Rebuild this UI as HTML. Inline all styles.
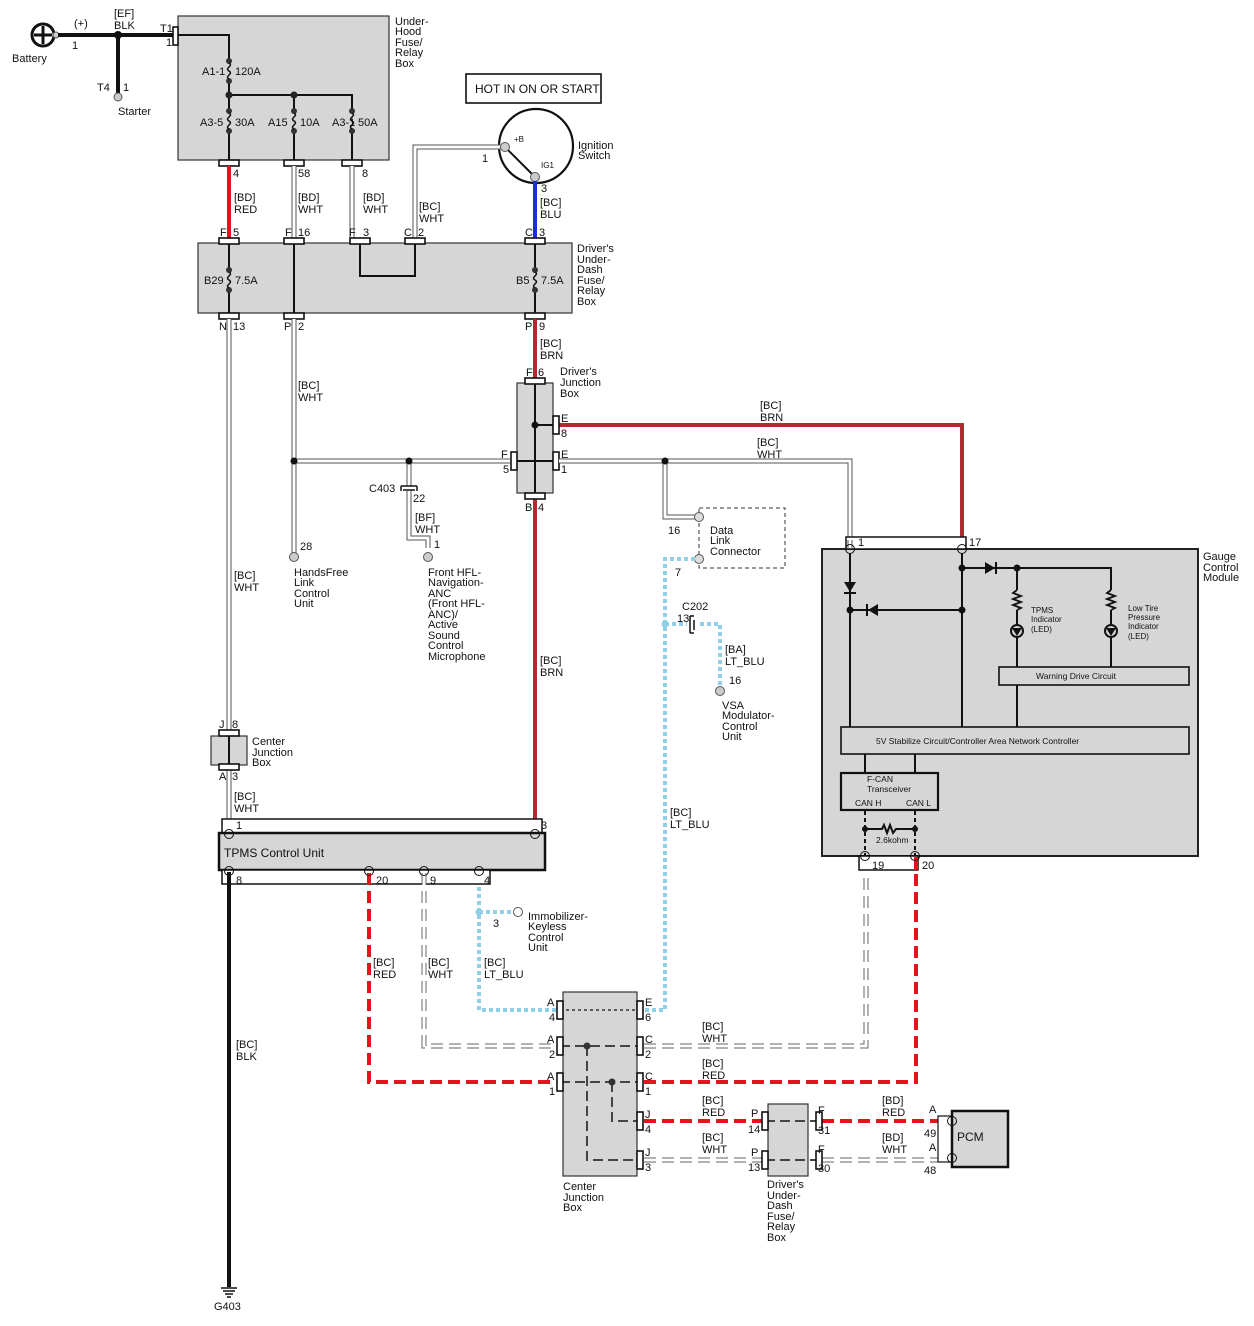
<!DOCTYPE html>
<html><head><meta charset="utf-8"><style>
html,body{margin:0;padding:0;background:#fff}
svg{display:block}
text{font-family:"Liberation Sans",Arial,sans-serif;font-size:11px;fill:#111}
.wo{stroke:#555;stroke-width:5;fill:none}
.wi{stroke:#fff;stroke-width:3;fill:none}
.k{stroke:#111;stroke-width:2;fill:none}
.kt{stroke:#111;stroke-width:4;fill:none}
.red{stroke:#e3141b;stroke-width:4;fill:none}
.rd{stroke:#e3141b;stroke-width:4;fill:none;stroke-dasharray:12 6}
.brn{stroke:#b22a2f;stroke-width:4;fill:none}
.blu{stroke:#1a2ee0;stroke-width:4;fill:none}
.lb{stroke:#8fcfe8;stroke-width:4;fill:none;stroke-dasharray:4 3}
.wdo{stroke:#666;stroke-width:5;fill:none;stroke-dasharray:12 6}
.wdi{stroke:#fff;stroke-width:3;fill:none;stroke-dasharray:12 6}
.gd{stroke:#444;stroke-width:2;fill:none;stroke-dasharray:10 5}
.box{fill:#d6d6d6;stroke:#333;stroke-width:1.2}
.c{fill:#fff;stroke:#111;stroke-width:1.6}
.pin{fill:none;stroke:#111;stroke-width:1}
</style></head><body>
<svg width="1254" height="1326" viewBox="0 0 1254 1326" xmlns="http://www.w3.org/2000/svg">
<defs>
<g id="fuse"><circle cx="0" cy="-10" r="3" fill="#333"/><circle cx="0" cy="10" r="3" fill="#333"/><path d="M0,-8 c5,3 -5,5 0,8 c5,3 -5,5 0,8" stroke="#111" stroke-width="1.5" fill="none"/></g>
<g id="ch"><rect x="-10" y="-3" width="20" height="6" class="c"/></g>
<g id="cv"><rect x="-3" y="-9" width="6" height="18" class="c"/></g>
</defs>

<circle cx="43" cy="35" r="11" fill="#fff" stroke="#111" stroke-width="3"/>
<path d="M34,35H52M43,26V44" stroke="#111" stroke-width="3"/>
<circle cx="56" cy="35" r="3" fill="#ccc" stroke="#555"/>
<path class="kt" d="M58,35H174M118,35V94"/>
<circle cx="118" cy="35" r="4" fill="#111"/>
<circle cx="118" cy="97" r="4" fill="#ccc" stroke="#555"/>
<text x="74" y="27">(+)</text><text x="72" y="49">1</text>
<text x="114" y="17">[EF]</text><text x="114" y="29">BLK</text>
<text x="160" y="32">T1</text><text x="166" y="46">1</text>
<text x="97" y="91">T4</text><text x="123" y="91">1</text>
<text x="118" y="115">Starter</text><text x="12" y="62">Battery</text>

<rect x="178" y="16" width="211" height="144" class="box"/>
<rect x="173" y="27" width="5" height="18" class="c"/>
<path class="k" d="M178,35H229V160M229,95H352V160M294,95V160" stroke-width="1.6"/>
<rect x="219" y="60" width="20" height="22" fill="#d6d6d6"/>
<use href="#fuse" x="229" y="71"/>
<rect x="219" y="110" width="20" height="22" fill="#d6d6d6"/><use href="#fuse" x="229" y="121"/>
<rect x="284" y="110" width="20" height="22" fill="#d6d6d6"/><use href="#fuse" x="294" y="121"/>
<rect x="342" y="110" width="20" height="22" fill="#d6d6d6"/><use href="#fuse" x="352" y="121"/>
<circle cx="229" cy="95" r="3.5" fill="#222"/><circle cx="294" cy="95" r="3.5" fill="#222"/>
<text x="202" y="75">A1-1</text><text x="235" y="75">120A</text>
<text x="200" y="126">A3-5</text><text x="235" y="126">30A</text>
<text x="268" y="126">A15</text><text x="300" y="126">10A</text>
<text x="332" y="126">A3-1</text><text x="358" y="126">50A</text>
<text x="395" y="25">Under-</text><text x="395" y="35">Hood</text><text x="395" y="46">Fuse/</text><text x="395" y="56">Relay</text><text x="395" y="67">Box</text>
<use href="#ch" x="229" y="163"/><use href="#ch" x="294" y="163"/><use href="#ch" x="352" y="163"/>

<rect x="466" y="74" width="135" height="29" fill="#fff" stroke="#111" stroke-width="1.6"/>
<text x="475" y="93" style="font-size:12px">HOT IN ON OR START</text>
<circle cx="536" cy="146" r="37" fill="#fff" stroke="#111" stroke-width="2.2"/>
<path d="M505,147L535,177" stroke="#111" stroke-width="2"/>
<circle cx="505" cy="147" r="4.5" fill="#ccc" stroke="#555"/>
<circle cx="535" cy="177" r="4.5" fill="#ccc" stroke="#555"/>
<text x="514" y="142" style="font-size:8px">+B</text><text x="541" y="168" style="font-size:8px">IG1</text>
<text x="578" y="149">Ignition</text><text x="578" y="159">Switch</text>
<text x="482" y="162">1</text><text x="541" y="192">3</text>

<path class="red" d="M229,166V238"/>
<path class="wo" d="M294,166V238M352,166V238M500,147H415V238"/><path class="wi" d="M294,166V238M352,166V238M500,147H415V238"/>
<path class="blu" d="M535,181V238"/>
<text x="233" y="177">4</text><text x="298" y="177">58</text><text x="362" y="177">8</text>
<text x="234" y="201">[BD]</text><text x="234" y="213">RED</text>
<text x="298" y="201">[BD]</text><text x="298" y="213">WHT</text>
<text x="363" y="201">[BD]</text><text x="363" y="213">WHT</text>
<text x="419" y="210">[BC]</text><text x="419" y="222">WHT</text>
<text x="540" y="206">[BC]</text><text x="540" y="218">BLU</text>
<text x="220" y="236">F</text><text x="233" y="236">5</text>
<text x="285" y="236">F</text><text x="298" y="236">16</text>
<text x="349" y="236">F</text><text x="363" y="236">3</text>
<text x="404" y="236">C</text><text x="418" y="236">2</text>
<text x="525" y="236">C</text><text x="539" y="236">3</text>

<rect x="198" y="243" width="374" height="70" class="box"/>
<path class="k" stroke-width="1.6" d="M229,243V313M294,243V313M360,243V276H415V243M535,243V313"/>
<rect x="219" y="268" width="20" height="24" fill="#d6d6d6"/><use href="#fuse" x="229" y="280"/>
<rect x="525" y="268" width="20" height="24" fill="#d6d6d6"/><use href="#fuse" x="535" y="280"/>
<text x="204" y="284">B29</text><text x="235" y="284">7.5A</text>
<text x="516" y="284">B5</text><text x="541" y="284">7.5A</text>
<text x="577" y="252">Driver's</text><text x="577" y="263">Under-</text><text x="577" y="273">Dash</text><text x="577" y="284">Fuse/</text><text x="577" y="294">Relay</text><text x="577" y="305">Box</text>
<use href="#ch" x="229" y="241"/><use href="#ch" x="294" y="241"/><use href="#ch" x="360" y="241"/><use href="#ch" x="415" y="241"/><use href="#ch" x="535" y="241"/>
<use href="#ch" x="229" y="316"/><use href="#ch" x="294" y="316"/><use href="#ch" x="535" y="316"/>
<text x="219" y="330">N</text><text x="233" y="330">13</text>
<text x="284" y="330">P</text><text x="298" y="330">2</text>
<text x="525" y="330">P</text><text x="539" y="330">9</text>

<path class="wo" d="M229,319V730M294,319V553M294,461H510M409,461V486M409,491V538H428V548M229,770V819"/>
<path class="wi" d="M229,319V730M294,319V553M294,461H510M409,461V486M409,491V538H428V548M229,770V819"/>
<circle cx="294" cy="461" r="3.5" fill="#111"/><circle cx="409" cy="461" r="3.5" fill="#111"/>
<path d="M401,486H417M401,486V491M417,486V491M403,490H415" stroke="#111" stroke-width="1.5" fill="none"/>
<text x="369" y="492">C403</text><text x="413" y="502">22</text>
<text x="415" y="521">[BF]</text><text x="415" y="533">WHT</text><text x="434" y="548">1</text>
<circle cx="428" cy="557" r="4.5" fill="#ccc" stroke="#555"/>
<circle cx="294" cy="557" r="4.5" fill="#ccc" stroke="#555"/>
<text x="300" y="550">28</text>
<text x="298" y="389">[BC]</text><text x="298" y="401">WHT</text>
<text x="294" y="576">HandsFree</text><text x="294" y="586">Link</text><text x="294" y="597">Control</text><text x="294" y="607">Unit</text>
<text x="428" y="576">Front HFL-</text><text x="428" y="586">Navigation-</text><text x="428" y="597">ANC</text><text x="428" y="607">(Front HFL-</text><text x="428" y="618">ANC)/</text><text x="428" y="628">Active</text><text x="428" y="639">Sound</text><text x="428" y="649">Control</text><text x="428" y="660">Microphone</text>
<text x="234" y="579">[BC]</text><text x="234" y="591">WHT</text>

<path class="brn" d="M535,319V378M558,425H962V545M535,499V825"/>
<text x="540" y="347">[BC]</text><text x="540" y="359">BRN</text>
<text x="540" y="664">[BC]</text><text x="540" y="676">BRN</text>
<text x="760" y="409">[BC]</text><text x="760" y="421">BRN</text>
<rect x="517" y="383" width="36" height="110" class="box"/>
<path class="k" stroke-width="1.6" d="M535,381V496M535,425H555M513,461H555"/>
<circle cx="535" cy="425" r="3.5" fill="#111"/>
<use href="#ch" x="535" y="381"/><use href="#ch" x="535" y="496"/>
<use href="#cv" x="556" y="425"/><use href="#cv" x="514" y="461"/><use href="#cv" x="556" y="461"/>
<text x="526" y="376">F</text><text x="538" y="376">6</text>
<text x="560" y="375">Driver's</text><text x="560" y="386">Junction</text><text x="560" y="397">Box</text>
<text x="561" y="422">E</text><text x="561" y="437">8</text>
<text x="501" y="458">F</text><text x="503" y="473">5</text>
<text x="561" y="458">E</text><text x="561" y="473">1</text>
<text x="525" y="511">B</text><text x="538" y="511">4</text>

<path class="wo" d="M559,461H850V540M665,461V517H695"/><path class="wi" d="M559,461H850V540M665,461V517H695"/>
<circle cx="665" cy="461" r="3.5" fill="#111"/>
<text x="757" y="446">[BC]</text><text x="757" y="458">WHT</text>
<rect x="699" y="508" width="86" height="60" fill="none" stroke="#333" stroke-dasharray="4 3"/>
<circle cx="699" cy="517" r="4.5" fill="#ddd" stroke="#555"/><circle cx="699" cy="559" r="4.5" fill="#ddd" stroke="#555"/>
<text x="668" y="534">16</text><text x="675" y="576">7</text>
<text x="710" y="534">Data</text><text x="710" y="544">Link</text><text x="710" y="555">Connector</text>

<path class="lb" d="M695,559H665V1010H560M665,624H720V686M479,873V1010H556M479,912H514"/>
<circle cx="665" cy="624" r="3.5" fill="#8fcfe8"/><circle cx="479" cy="912" r="3.5" fill="#8fcfe8"/>
<rect x="687" y="616" width="10" height="17" fill="#fff"/>
<path d="M690,616V633M690,616H694M690,633H694M694,620V630" stroke="#111" stroke-width="1.5" fill="none"/>
<text x="682" y="610">C202</text><text x="677" y="622">13</text>
<text x="725" y="653">[BA]</text><text x="725" y="665">LT_BLU</text><text x="729" y="684">16</text>
<circle cx="720" cy="691" r="4.5" fill="#ccc" stroke="#555"/>
<text x="722" y="709">VSA</text><text x="722" y="719">Modulator-</text><text x="722" y="730">Control</text><text x="722" y="740">Unit</text>
<text x="670" y="816">[BC]</text><text x="670" y="828">LT_BLU</text>
<circle cx="518" cy="912" r="4.5" fill="#fff" stroke="#555"/>
<text x="493" y="927">3</text>
<text x="528" y="920">Immobilizer-</text><text x="528" y="930">Keyless</text><text x="528" y="941">Control</text><text x="528" y="951">Unit</text>
<text x="484" y="966">[BC]</text><text x="484" y="978">LT_BLU</text>

<rect x="211" y="736" width="36" height="29" class="box"/>
<path class="k" stroke-width="1.6" d="M229,733V767"/>
<use href="#ch" x="229" y="733"/><use href="#ch" x="229" y="767"/>
<text x="219" y="728">J</text><text x="232" y="728">8</text>
<text x="219" y="780">A</text><text x="232" y="780">3</text>
<text x="252" y="745">Center</text><text x="252" y="756">Junction</text><text x="252" y="766">Box</text>
<text x="234" y="800">[BC]</text><text x="234" y="812">WHT</text>

<rect x="222" y="819" width="320" height="14" fill="#fff" stroke="#111" stroke-width="1.5"/>
<rect x="219" y="833" width="326" height="37" fill="#d6d6d6" stroke="#111" stroke-width="2.5"/>
<rect x="222" y="870" width="268" height="14" fill="#fff" stroke="#111" stroke-width="1.5"/>
<text x="224" y="857" style="font-size:12px">TPMS Control Unit</text>
<text x="236" y="829">1</text><text x="541" y="829">3</text>
<text x="236" y="884">8</text><text x="376" y="884">20</text><text x="430" y="884">9</text><text x="484" y="884">4</text>

<path class="kt" d="M229,872V1287"/>
<path d="M221,1288H237M223,1291H235M225,1294H233M227,1297H231" stroke="#111" stroke-width="1.5"/>
<text x="214" y="1310">G403</text>
<text x="236" y="1048">[BC]</text><text x="236" y="1060">BLK</text>
<path class="rd" d="M369,873V1082H556"/>
<path class="wdo" d="M424,873V1046H556"/><path class="wdi" d="M424,873V1046H556"/>
<text x="373" y="966">[BC]</text><text x="373" y="978">RED</text>
<text x="428" y="966">[BC]</text><text x="428" y="978">WHT</text>
<circle cx="229" cy="834" r="4.5" class="pin"/><circle cx="535" cy="834" r="4.5" class="pin"/>
<circle cx="229" cy="871" r="4.5" class="pin"/><circle cx="369" cy="871" r="4.5" class="pin"/><circle cx="424" cy="871" r="4.5" class="pin"/><circle cx="479" cy="871" r="4.5" class="pin"/>

<rect x="563" y="992" width="74" height="184" class="box"/>
<path d="M560,1010H640" stroke="#333" stroke-width="1.5" stroke-dasharray="3 3"/>
<path class="gd" d="M560,1046H640M560,1082H640M587,1046V1160H640M612,1082V1121H640"/>
<circle cx="587" cy="1046" r="3.5" fill="#333"/><circle cx="612" cy="1082" r="3.5" fill="#333"/>
<use href="#cv" x="560" y="1010"/><use href="#cv" x="560" y="1046"/><use href="#cv" x="560" y="1082"/>
<use href="#cv" x="640" y="1010"/><use href="#cv" x="640" y="1046"/><use href="#cv" x="640" y="1082"/><use href="#cv" x="640" y="1121"/><use href="#cv" x="640" y="1160"/>
<text x="547" y="1006">A</text><text x="549" y="1021">4</text>
<text x="547" y="1043">A</text><text x="549" y="1058">2</text>
<text x="547" y="1080">A</text><text x="549" y="1095">1</text>
<text x="645" y="1006">E</text><text x="645" y="1021">6</text>
<text x="645" y="1043">C</text><text x="645" y="1058">2</text>
<text x="645" y="1080">C</text><text x="645" y="1095">1</text>
<text x="645" y="1118">J</text><text x="645" y="1133">4</text>
<text x="645" y="1156">J</text><text x="645" y="1171">3</text>
<text x="563" y="1190">Center</text><text x="563" y="1201">Junction</text><text x="563" y="1211">Box</text>

<path class="wdo" d="M644,1046H866V872M644,1160H762M822,1160H948"/><path class="wdi" d="M644,1046H866V872M644,1160H762M822,1160H948"/>
<path class="rd" d="M644,1082H916V872M644,1121H762M822,1121H948"/>
<text x="702" y="1030">[BC]</text><text x="702" y="1042">WHT</text>
<text x="702" y="1067">[BC]</text><text x="702" y="1079">RED</text>
<text x="702" y="1104">[BC]</text><text x="702" y="1116">RED</text>
<text x="702" y="1141">[BC]</text><text x="702" y="1153">WHT</text>
<text x="882" y="1104">[BD]</text><text x="882" y="1116">RED</text>
<text x="882" y="1141">[BD]</text><text x="882" y="1153">WHT</text>

<rect x="768" y="1104" width="40" height="72" class="box"/>
<path class="gd" d="M765,1121H817M765,1160H817"/>
<use href="#cv" x="765" y="1121"/><use href="#cv" x="765" y="1160"/><use href="#cv" x="819" y="1121"/><use href="#cv" x="819" y="1160"/>
<text x="751" y="1117">P</text><text x="748" y="1133">14</text>
<text x="751" y="1156">P</text><text x="748" y="1171">13</text>
<text x="818" y="1114">F</text><text x="818" y="1134">31</text>
<text x="818" y="1153">F</text><text x="818" y="1172">30</text>
<text x="767" y="1188">Driver's</text><text x="767" y="1199">Under-</text><text x="767" y="1209">Dash</text><text x="767" y="1220">Fuse/</text><text x="767" y="1230">Relay</text><text x="767" y="1241">Box</text>

<rect x="938" y="1116" width="14" height="46" fill="#fff" stroke="#111" stroke-width="1.2"/>
<rect x="952" y="1111" width="56" height="56" fill="#d6d6d6" stroke="#111" stroke-width="2.5"/>
<circle cx="952" cy="1121" r="4.5" class="pin"/><circle cx="952" cy="1158" r="4.5" class="pin"/>
<text x="957" y="1141" style="font-size:12px">PCM</text>
<text x="929" y="1113">A</text><text x="924" y="1137">49</text>
<text x="929" y="1151">A</text><text x="924" y="1174">48</text>

<rect x="822" y="549" width="376" height="307" fill="#d6d6d6" stroke="#222" stroke-width="2"/>
<rect x="846" y="537" width="120" height="12" fill="#fff" stroke="#111" stroke-width="1.5"/>
<path class="wo" d="M850,540V548"/><path class="wi" d="M850,540V548"/>
<circle cx="850" cy="549" r="4.5" class="pin"/><circle cx="962" cy="549" r="4.5" class="pin"/>
<text x="858" y="546">1</text><text x="969" y="546">17</text>
<text x="1203" y="560">Gauge</text><text x="1203" y="571">Control</text><text x="1203" y="581">Module</text>
<path stroke="#111" stroke-width="2" fill="none" d="M850,553V727M850,610H962M962,553V727M962,568H1111V667M1017,568V667M1017,685V727M865,754V773M915,754V773"/>
<path d="M844,582H856L850,592Z" fill="#111"/><path d="M844,593H856" stroke="#111" stroke-width="2"/>
<path d="M878,604V616L868,610Z" fill="#111"/><path d="M867,604V616" stroke="#111" stroke-width="2"/>
<path d="M985,562V574L995,568Z" fill="#111"/><path d="M996,562V574" stroke="#111" stroke-width="2"/>
<circle cx="850" cy="610" r="3.5" fill="#111"/><circle cx="962" cy="610" r="3.5" fill="#111"/><circle cx="962" cy="568" r="3.5" fill="#111"/><circle cx="1017" cy="568" r="3.5" fill="#111"/>
<rect x="1012" y="590" width="10" height="20" fill="#d6d6d6"/>
<path d="M1017,590l-4,3l8,3l-8,3l8,3l-8,3l8,3l-4,2" stroke="#111" stroke-width="1.8" fill="none"/>
<rect x="1106" y="590" width="10" height="20" fill="#d6d6d6"/>
<path d="M1111,590l-4,3l8,3l-8,3l8,3l-8,3l8,3l-4,2" stroke="#111" stroke-width="1.8" fill="none"/>
<circle cx="1017" cy="631" r="6" fill="#d6d6d6" stroke="#111" stroke-width="2"/><path d="M1012,628H1022L1017,636Z" fill="#111"/>
<circle cx="1111" cy="631" r="6" fill="#d6d6d6" stroke="#111" stroke-width="2"/><path d="M1106,628H1116L1111,636Z" fill="#111"/>
<text x="1031" y="613" style="font-size:8px">TPMS</text><text x="1031" y="622" style="font-size:8px">Indicator</text><text x="1031" y="632" style="font-size:8px">(LED)</text>
<text x="1128" y="611" style="font-size:8px">Low Tire</text><text x="1128" y="620" style="font-size:8px">Pressure</text><text x="1128" y="629" style="font-size:8px">Indicator</text><text x="1128" y="639" style="font-size:8px">(LED)</text>
<rect x="999" y="667" width="190" height="18" fill="#d6d6d6" stroke="#111" stroke-width="1.6"/>
<text x="1036" y="679" style="font-size:8.5px">Warning Drive Circuit</text>
<rect x="841" y="727" width="348" height="27" fill="#d6d6d6" stroke="#111" stroke-width="1.6"/>
<text x="876" y="744" style="font-size:8.5px">5V Stabilize Circuit/Controller Area Network Controller</text>
<rect x="841" y="773" width="97" height="37" fill="#d6d6d6" stroke="#111" stroke-width="2.2"/>
<text x="867" y="782" style="font-size:8.5px">F-CAN</text><text x="867" y="792" style="font-size:8.5px">Transceiver</text>
<text x="855" y="806" style="font-size:8.5px">CAN H</text><text x="906" y="806" style="font-size:8.5px">CAN L</text>
<path d="M865,811V856M915,811V856" stroke="#111" stroke-width="2" stroke-dasharray="4 3"/>
<path d="M865,829H882l2,-4 3,8 3,-8 3,8 3,-4H915" stroke="#111" stroke-width="2" fill="none"/>
<circle cx="865" cy="829" r="3" fill="#111"/><circle cx="915" cy="829" r="3" fill="#111"/>
<text x="876" y="843" style="font-size:8.5px">2.6kohm</text>
<rect x="859" y="856" width="59" height="14" fill="#fff" stroke="#111" stroke-width="1.5"/>
<path class="red" d="M916,857V870"/>
<circle cx="865" cy="856" r="4.5" class="pin"/><circle cx="915" cy="856" r="4.5" class="pin"/>
<text x="872" y="869">19</text><text x="922" y="869">20</text>
</svg>
</body></html>
